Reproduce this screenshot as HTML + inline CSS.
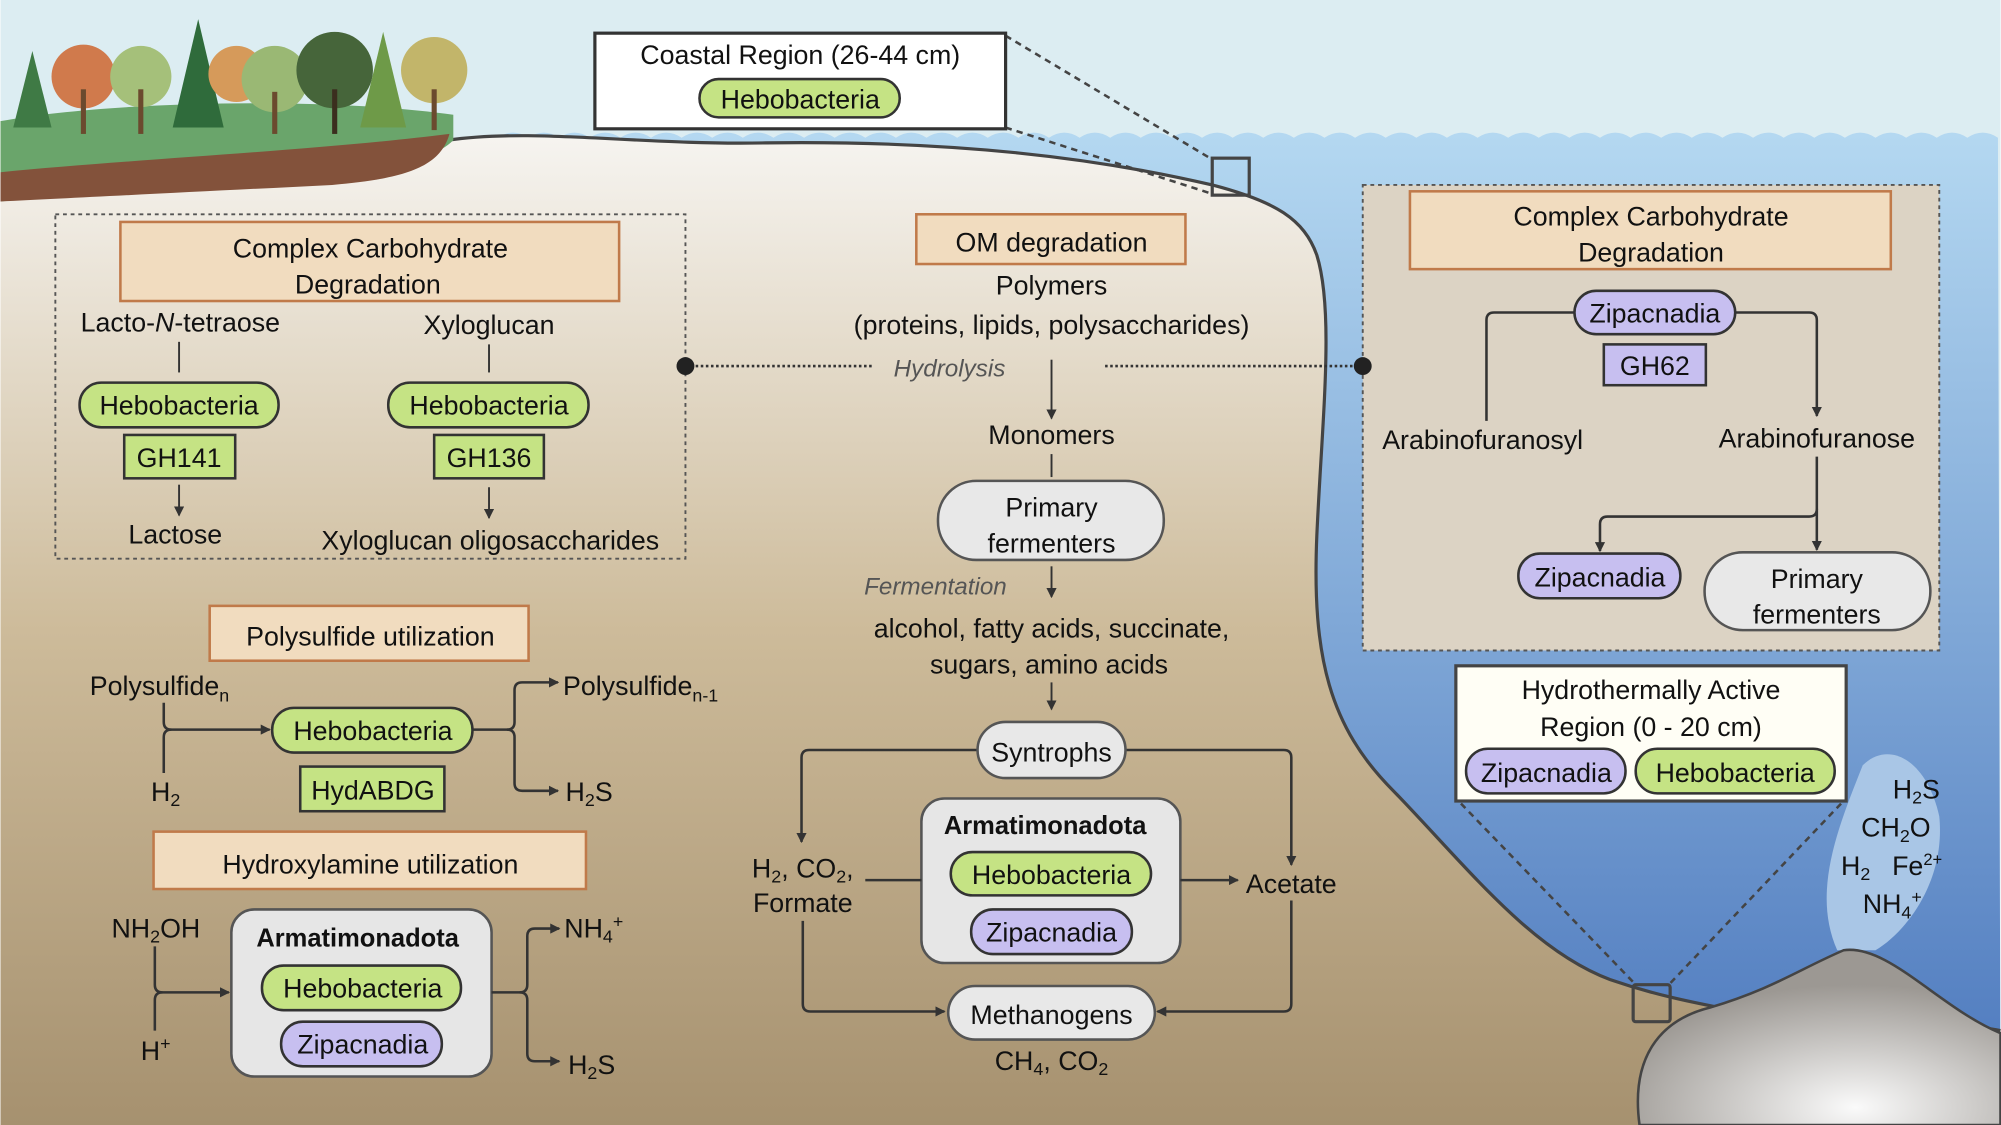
<!DOCTYPE html>
<html><head><meta charset="utf-8"><style>html,body{margin:0;padding:0;background:#fff}svg{display:block}</style></head><body>
<svg width="2001" height="1125" viewBox="0 0 1568 882" xmlns="http://www.w3.org/2000/svg" font-family="Liberation Sans, sans-serif" font-size="21" fill="#111">
<defs>
<linearGradient id="water" x1="0" y1="0" x2="0" y2="1"><stop offset="0" stop-color="#b4d8f1"/><stop offset="1" stop-color="#4a76bc"/></linearGradient>
<linearGradient id="sed" x1="0" y1="0" x2="0" y2="1"><stop offset="0" stop-color="#f6f4f0"/><stop offset="0.5" stop-color="#cdbb9a"/><stop offset="1" stop-color="#a6916f"/></linearGradient>
<radialGradient id="rock" cx="0.6" cy="0.9" r="0.7"><stop offset="0" stop-color="#fafafa"/><stop offset="1" stop-color="#9c9893"/></radialGradient>
<marker id="a" markerWidth="8" markerHeight="8" refX="7" refY="4" orient="auto" markerUnits="userSpaceOnUse"><path d="M0,0 L8,4 L0,8 Z" fill="#333"/></marker>
</defs>
<rect width="1568" height="882" fill="#dcedf2"/>
<path d="M390,108 q12,-8 24,0 q12,-8 24,0 q12,-8 24,0 q12,-8 24,0 q12,-8 24,0 q12,-8 24,0 q12,-8 24,0 q12,-8 24,0 q12,-8 24,0 q12,-8 24,0 q12,-8 24,0 q12,-8 24,0 q12,-8 24,0 q12,-8 24,0 q12,-8 24,0 q12,-8 24,0 q12,-8 24,0 q12,-8 24,0 q12,-8 24,0 q12,-8 24,0 q12,-8 24,0 q12,-8 24,0 q12,-8 24,0 q12,-8 24,0 q12,-8 24,0 q12,-8 24,0 q12,-8 24,0 q12,-8 24,0 q12,-8 24,0 q12,-8 24,0 q12,-8 24,0 q12,-8 24,0 q12,-8 24,0 q12,-8 24,0 q12,-8 24,0 q12,-8 24,0 q12,-8 24,0 q12,-8 24,0 q12,-8 24,0 q12,-8 24,0 q12,-8 24,0 q12,-8 24,0 q12,-8 24,0 q12,-8 24,0 q12,-8 24,0 q12,-8 24,0 q12,-8 24,0 q12,-8 24,0 q12,-8 24,0 L1568,882 L390,882 Z" fill="url(#water)"/>
<path d="M0,150 L350,110 C420,100 500,114 600,112 C750,110 860,124 950,145 C1000,158 1022,172 1032,200 C1046,245 1036,330 1032,420 C1028,515 1042,570 1092,620 C1150,680 1200,745 1262,768 C1320,788 1360,790 1400,802 C1480,810 1530,800 1568,808 L1568,882 L0,882 Z" fill="url(#sed)"/>
<path d="M350,110 C420,100 500,114 600,112 C750,110 860,124 950,145 C1000,158 1022,172 1032,200 C1046,245 1036,330 1032,420 C1028,515 1042,570 1092,620 C1150,680 1200,745 1262,768 C1320,788 1360,790 1400,802 C1480,810 1530,800 1568,808" fill="none" stroke="#444" stroke-width="2.5"/>
<!-- land -->
<path d="M0,95 C80,80 250,75 355,90 L355,110 C340,125 310,130 250,135 C150,140 60,150 0,158 Z" fill="#6aa56b"/>
<path d="M0,135 C100,125 250,118 352,105 C345,130 320,140 260,145 C160,150 60,155 0,158 Z" fill="#83523b"/>
<g>
<polygon points="25,40 10,100 40,100" fill="#3f7a45"/><circle cx="65" cy="60" r="25" fill="#d07a4c"/><rect x="63" y="70" width="4" height="35" fill="#6b4a2e"/>
<circle cx="110" cy="60" r="24" fill="#a5c07a"/><rect x="108" y="70" width="4" height="35" fill="#6b4a2e"/>
<polygon points="155,15 135,100 175,100" fill="#2f6b3b"/><circle cx="185" cy="58" r="22" fill="#d69a5a"/>
<circle cx="215" cy="62" r="26" fill="#9ab874"/><rect x="213" y="72" width="4" height="33" fill="#6b4a2e"/>
<circle cx="262" cy="55" r="30" fill="#46653a"/><rect x="260" y="70" width="4" height="35" fill="#3b2e1e"/>
<polygon points="300,25 282,100 318,100" fill="#6e9a48"/><circle cx="340" cy="55" r="26" fill="#c2b56a"/><rect x="338" y="70" width="4" height="32" fill="#6b4a2e"/>
</g>
<!-- rock & plume -->
<path d="M1440,745 C1420,700 1440,650 1460,600 C1480,580 1510,595 1520,640 C1525,690 1495,730 1470,745 Z" fill="#a9c6e6"/>
<path d="M1285,882 C1278,830 1300,800 1340,790 C1390,775 1410,760 1445,745 C1480,740 1520,790 1568,810 L1568,882 Z" fill="url(#rock)" stroke="#444" stroke-width="2"/>
<!-- coastal -->
<line x1="788" y1="28" x2="950" y2="125" stroke="#444" stroke-width="2" stroke-dasharray="5,4"/>
<line x1="788" y1="100" x2="950" y2="152" stroke="#444" stroke-width="2" stroke-dasharray="5,4"/>
<rect x="950" y="124" width="29" height="29" fill="none" stroke="#444" stroke-width="2.5"/>
<rect x="466" y="26" width="322" height="75" fill="#fff" stroke="#333" stroke-width="2.5"/>
<text x="627" y="50" text-anchor="middle">Coastal Region (26-44 cm)</text>
<rect x="548" y="62" width="157" height="30" rx="15" fill="#c5e384" stroke="#333" stroke-width="2"/><text x="627" y="85" text-anchor="middle">Hebobacteria</text>
<!-- left CC box -->
<rect x="43" y="168" width="494" height="270" fill="none" stroke="#555" stroke-width="1.5" stroke-dasharray="3,3"/>
<rect x="94" y="174" width="391" height="62" fill="#f1dcbf" stroke="#c07a4a" stroke-width="2"/>
<text x="290" y="202" text-anchor="middle">Complex Carbohydrate</text><text x="288" y="230" text-anchor="middle">Degradation</text>
<text x="141" y="260" text-anchor="middle">Lacto-<tspan font-style="italic">N</tspan>-tetraose</text>
<text x="383" y="262" text-anchor="middle">Xyloglucan</text>
<line x1="140" y1="268" x2="140" y2="292" stroke="#333" stroke-width="1.5"/><line x1="383" y1="270" x2="383" y2="292" stroke="#333" stroke-width="1.5"/>
<rect x="62" y="300" width="156" height="35" rx="17" fill="#c5e384" stroke="#333" stroke-width="2"/><text x="140" y="325" text-anchor="middle">Hebobacteria</text>
<rect x="304" y="300" width="157" height="35" rx="17" fill="#c5e384" stroke="#333" stroke-width="2"/><text x="383" y="325" text-anchor="middle">Hebobacteria</text>
<rect x="97" y="341" width="87" height="34" fill="#c5e384" stroke="#333" stroke-width="2"/><text x="140" y="366" text-anchor="middle">GH141</text>
<rect x="340" y="341" width="86" height="34" fill="#c5e384" stroke="#333" stroke-width="2"/><text x="383" y="366" text-anchor="middle">GH136</text>
<line x1="140" y1="380" x2="140" y2="404" stroke="#333" stroke-width="1.5" marker-end="url(#a)"/><line x1="383" y1="382" x2="383" y2="406" stroke="#333" stroke-width="1.5" marker-end="url(#a)"/>
<text x="137" y="426" text-anchor="middle">Lactose</text><text x="384" y="431" text-anchor="middle">Xyloglucan oligosaccharides</text>
<!-- hydrolysis -->
<line x1="537" y1="287" x2="683" y2="287" stroke="#333" stroke-width="2" stroke-dasharray="2,2"/>
<line x1="866" y1="287" x2="1068" y2="287" stroke="#333" stroke-width="2" stroke-dasharray="2,2"/>
<text x="744" y="295" text-anchor="middle" font-style="italic" fill="#555" font-size="19">Hydrolysis</text>
<!-- center -->
<rect x="718" y="168" width="211" height="39" fill="#f1dcbf" stroke="#c07a4a" stroke-width="2"/><text x="824" y="197" text-anchor="middle">OM degradation</text>
<text x="824" y="231" text-anchor="middle">Polymers</text><text x="824" y="262" text-anchor="middle">(proteins, lipids, polysaccharides)</text>
<line x1="824" y1="282" x2="824" y2="328" stroke="#333" stroke-width="1.5" marker-end="url(#a)"/>
<text x="824" y="348" text-anchor="middle">Monomers</text>
<line x1="824" y1="356" x2="824" y2="374" stroke="#333" stroke-width="1.5"/>
<rect x="735" y="377" width="177" height="62" rx="30" fill="#e8e8e8" stroke="#555" stroke-width="2"/>
<text x="824" y="405" text-anchor="middle">Primary</text><text x="824" y="433" text-anchor="middle">fermenters</text>
<text x="733" y="466" text-anchor="middle" font-style="italic" fill="#555" font-size="19">Fermentation</text>
<line x1="824" y1="444" x2="824" y2="468" stroke="#333" stroke-width="1.5" marker-end="url(#a)"/>
<text x="824" y="500" text-anchor="middle">alcohol, fatty acids, succinate,</text><text x="822" y="528" text-anchor="middle">sugars, amino acids</text>
<line x1="824" y1="535" x2="824" y2="556" stroke="#333" stroke-width="1.5" marker-end="url(#a)"/>
<path d="M766,588 H634 q-6,0 -6,6 V660" fill="none" stroke="#333" stroke-width="2" marker-end="url(#a)"/>
<path d="M882,588 H1006 q6,0 6,6 V678" fill="none" stroke="#333" stroke-width="2" marker-end="url(#a)"/>
<rect x="766" y="566" width="116" height="44" rx="22" fill="#e8e8e8" stroke="#555" stroke-width="2"/><text x="824" y="597" text-anchor="middle">Syntrophs</text>
<rect x="722" y="626" width="203" height="129" rx="18" fill="#e6e6e6" stroke="#555" stroke-width="2"/>
<text x="819" y="654" text-anchor="middle" font-weight="bold" font-size="20">Armatimonadota</text>
<rect x="745" y="668" width="157" height="34" rx="17" fill="#c5e384" stroke="#333" stroke-width="2"/><text x="824" y="693" text-anchor="middle">Hebobacteria</text>
<rect x="761" y="713" width="126" height="35" rx="17" fill="#c7bff0" stroke="#333" stroke-width="2"/><text x="824" y="738" text-anchor="middle">Zipacnadia</text>
<text x="629" y="688" text-anchor="middle">H<tspan font-size="14" dy="4">2</tspan><tspan dy="-4">, CO</tspan><tspan font-size="14" dy="4">2</tspan><tspan dy="-4">,</tspan></text>
<text x="629" y="715" text-anchor="middle">Formate</text>
<line x1="678" y1="690" x2="722" y2="690" stroke="#333" stroke-width="2"/>
<line x1="925" y1="690" x2="970" y2="690" stroke="#333" stroke-width="2" marker-end="url(#a)"/>
<text x="1012" y="700" text-anchor="middle">Acetate</text>
<path d="M629,722 V787 q0,6 6,6 H740" fill="none" stroke="#333" stroke-width="2" marker-end="url(#a)"/>
<path d="M1012,706 V787 q0,6 -6,6 H907" fill="none" stroke="#333" stroke-width="2" marker-end="url(#a)"/>
<rect x="743" y="773" width="162" height="42" rx="21" fill="#e8e8e8" stroke="#555" stroke-width="2"/><text x="824" y="803" text-anchor="middle">Methanogens</text>
<text x="824" y="839" text-anchor="middle">CH<tspan font-size="14" dy="4">4</tspan><tspan dy="-4">, CO</tspan><tspan font-size="14" dy="4">2</tspan></text>
<!-- polysulfide -->
<rect x="164" y="475" width="250" height="43" fill="#f1dcbf" stroke="#c07a4a" stroke-width="2"/><text x="290" y="506" text-anchor="middle">Polysulfide utilization</text>
<text x="70" y="545">Polysulfide<tspan font-size="14" dy="5">n</tspan></text>
<text x="118" y="628">H<tspan font-size="14" dy="4">2</tspan></text>
<path d="M128,551 V566 q0,6 6,6 H211" fill="none" stroke="#333" stroke-width="2" marker-end="url(#a)"/>
<path d="M128,606 V578 q0,-6 6,-6" fill="none" stroke="#333" stroke-width="2"/>
<rect x="213" y="555" width="157" height="35" rx="17" fill="#c5e384" stroke="#333" stroke-width="2"/><text x="292" y="580" text-anchor="middle">Hebobacteria</text>
<rect x="235" y="601" width="113" height="35" fill="#c5e384" stroke="#333" stroke-width="2"/><text x="292" y="627" text-anchor="middle">HydABDG</text>
<path d="M370,572 H397 q6,0 6,-6 V541 q0,-6 6,-6 H437" fill="none" stroke="#333" stroke-width="2" marker-end="url(#a)"/>
<path d="M397,572 q6,0 6,6 V614 q0,6 6,6 H437" fill="none" stroke="#333" stroke-width="2" marker-end="url(#a)"/>
<text x="441" y="545">Polysulfide<tspan font-size="14" dy="5">n-1</tspan></text>
<text x="443" y="628">H<tspan font-size="14" dy="4">2</tspan><tspan dy="-4">S</tspan></text>
<!-- hydroxylamine -->
<rect x="120" y="652" width="339" height="45" fill="#f1dcbf" stroke="#c07a4a" stroke-width="2"/><text x="290" y="685" text-anchor="middle">Hydroxylamine utilization</text>
<text x="87" y="735">NH<tspan font-size="14" dy="4">2</tspan><tspan dy="-4">OH</tspan></text>
<text x="110" y="831">H<tspan font-size="14" dy="-8">+</tspan></text>
<path d="M121,742 V772 q0,6 6,6 H179" fill="none" stroke="#333" stroke-width="2" marker-end="url(#a)"/>
<path d="M121,808 V784 q0,-6 6,-6" fill="none" stroke="#333" stroke-width="2"/>
<rect x="181" y="713" width="204" height="131" rx="18" fill="#e6e6e6" stroke="#555" stroke-width="2"/>
<text x="280" y="742" text-anchor="middle" font-weight="bold" font-size="20">Armatimonadota</text>
<rect x="205" y="757" width="156" height="35" rx="17" fill="#c5e384" stroke="#333" stroke-width="2"/><text x="284" y="782" text-anchor="middle">Hebobacteria</text>
<rect x="220" y="801" width="126" height="35" rx="17" fill="#c7bff0" stroke="#333" stroke-width="2"/><text x="284" y="826" text-anchor="middle">Zipacnadia</text>
<path d="M385,778 H407 q6,0 6,-6 V734 q0,-6 6,-6 H438" fill="none" stroke="#333" stroke-width="2" marker-end="url(#a)"/>
<path d="M407,778 q6,0 6,6 V826 q0,6 6,6 H438" fill="none" stroke="#333" stroke-width="2" marker-end="url(#a)"/>
<text x="442" y="735">NH<tspan font-size="14" dy="4">4</tspan><tspan font-size="14" dy="-12">+</tspan></text>
<text x="445" y="842">H<tspan font-size="14" dy="4">2</tspan><tspan dy="-4">S</tspan></text>
<!-- right CC box -->
<rect x="1068" y="145" width="452" height="365" fill="#dcd3c4" stroke="#555" stroke-width="1.5" stroke-dasharray="3,3"/>
<circle cx="537" cy="287" r="7" fill="#222"/><circle cx="1068" cy="287" r="7" fill="#222"/>
<rect x="1105" y="150" width="377" height="61" fill="#f1dcbf" stroke="#c07a4a" stroke-width="2"/>
<text x="1294" y="177" text-anchor="middle">Complex Carbohydrate</text><text x="1294" y="205" text-anchor="middle">Degradation</text>
<path d="M1234,245 H1171 q-6,0 -6,6 V330" fill="none" stroke="#333" stroke-width="2"/>
<path d="M1360,245 H1418 q6,0 6,6 V326" fill="none" stroke="#333" stroke-width="2" marker-end="url(#a)"/>
<rect x="1234" y="228" width="126" height="34" rx="17" fill="#c7bff0" stroke="#333" stroke-width="2"/><text x="1297" y="253" text-anchor="middle">Zipacnadia</text>
<rect x="1257" y="270" width="80" height="32" fill="#c7bff0" stroke="#333" stroke-width="2"/><text x="1297" y="294" text-anchor="middle">GH62</text>
<text x="1162" y="352" text-anchor="middle">Arabinofuranosyl</text><text x="1424" y="351" text-anchor="middle">Arabinofuranose</text>
<line x1="1424" y1="358" x2="1424" y2="431" stroke="#333" stroke-width="2" marker-end="url(#a)"/>
<path d="M1424,399 q0,6 -6,6 H1260 q-6,0 -6,6 V432" fill="none" stroke="#333" stroke-width="2" marker-end="url(#a)"/>
<rect x="1190" y="434" width="127" height="35" rx="17" fill="#c7bff0" stroke="#333" stroke-width="2"/><text x="1254" y="460" text-anchor="middle">Zipacnadia</text>
<rect x="1336" y="433" width="177" height="61" rx="30" fill="#e8e8e8" stroke="#555" stroke-width="2"/>
<text x="1424" y="461" text-anchor="middle">Primary</text><text x="1424" y="489" text-anchor="middle">fermenters</text>
<!-- hydrothermal -->
<line x1="1145" y1="630" x2="1282" y2="772" stroke="#444" stroke-width="2" stroke-dasharray="5,4"/>
<line x1="1443" y1="630" x2="1308" y2="772" stroke="#444" stroke-width="2" stroke-dasharray="5,4"/>
<rect x="1280" y="772" width="29" height="29" rx="2" fill="none" stroke="#444" stroke-width="2.5"/>
<rect x="1141" y="522" width="306" height="106" fill="#fffef5" stroke="#444" stroke-width="2.5"/>
<text x="1294" y="548" text-anchor="middle">Hydrothermally Active</text><text x="1294" y="577" text-anchor="middle">Region (0 - 20 cm)</text>
<rect x="1149" y="587" width="125" height="35" rx="17" fill="#c7bff0" stroke="#333" stroke-width="2"/><text x="1212" y="613" text-anchor="middle">Zipacnadia</text>
<rect x="1282" y="587" width="156" height="35" rx="17" fill="#c5e384" stroke="#333" stroke-width="2"/><text x="1360" y="613" text-anchor="middle">Hebobacteria</text>
<!-- vent text -->
<text x="1502" y="626" text-anchor="middle">H<tspan font-size="14" dy="4">2</tspan><tspan dy="-4">S</tspan></text>
<text x="1486" y="656" text-anchor="middle">CH<tspan font-size="14" dy="4">2</tspan><tspan dy="-4">O</tspan></text>
<text x="1443" y="686">H<tspan font-size="14" dy="4">2</tspan></text>
<text x="1483" y="686">Fe<tspan font-size="13" dy="-8">2+</tspan></text>
<text x="1460" y="716">NH<tspan font-size="14" dy="4">4</tspan><tspan font-size="14" dy="-12">+</tspan></text>
</svg>
</body></html>
